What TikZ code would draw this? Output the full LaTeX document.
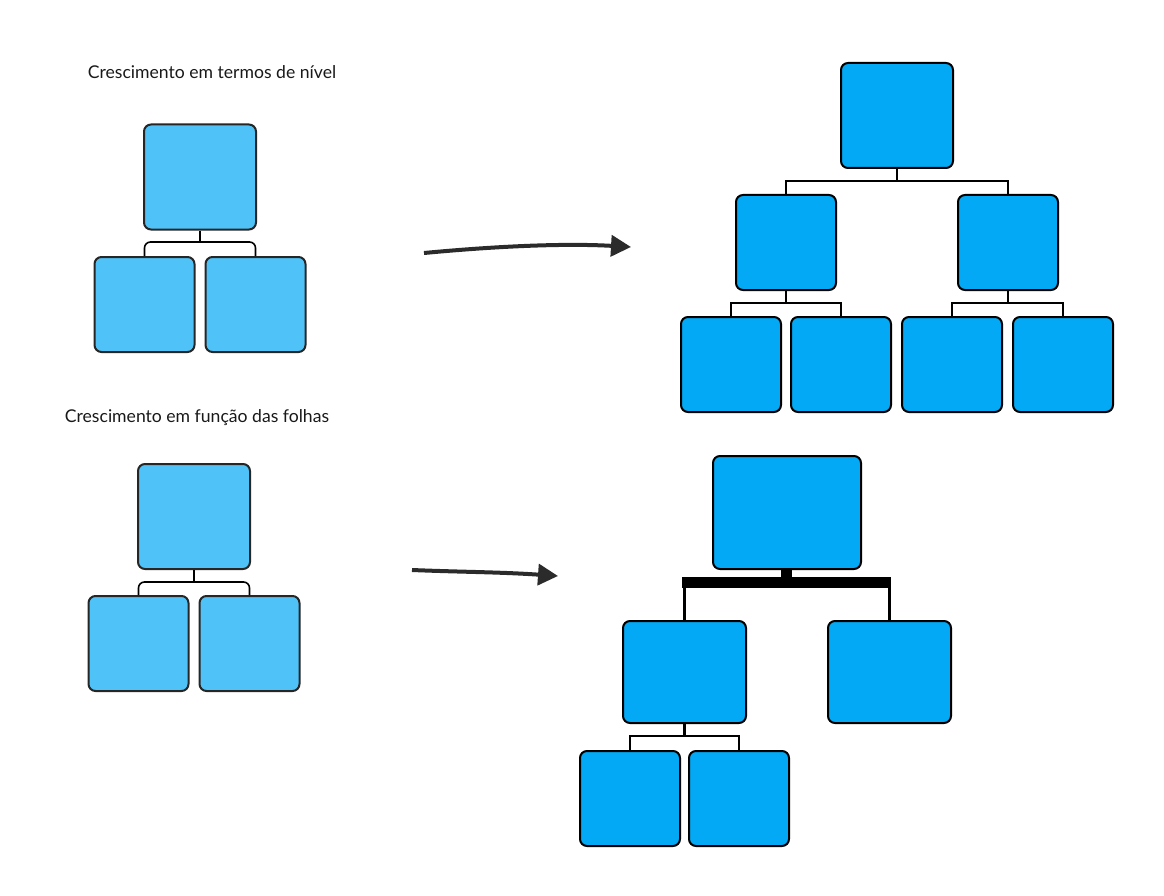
\documentclass[tikz,border=0pt]{standalone}
\usepackage{fontspec}
\setmainfont{Lato}
\usetikzlibrary{arrows.meta}
\definecolor{lightbox}{HTML}{4FC3F7}
\definecolor{darkbox}{HTML}{03A9F4}
\definecolor{arrowgray}{HTML}{2B2B2B}
\begin{document}
\begin{tikzpicture}[x=1pt,y=-1pt,
  lbox/.style={rectangle,draw=black!85,line width=2pt,fill=lightbox,rounded corners=7pt,inner sep=0pt},
  dbox/.style={rectangle,draw=black,line width=2pt,fill=darkbox,rounded corners=7pt,inner sep=0pt},
  bigbox/.style={minimum width=112pt,minimum height=105pt},
  smallbox/.style={minimum width=100pt,minimum height=95pt},
  midbox/.style={minimum width=123pt,minimum height=102pt},
  thin/.style={draw=black,line width=1.6pt},
  bigarrow/.style={draw=arrowgray,line width=4pt,-{Triangle[length=20pt,width=21pt]}},
  title/.style={font=\fontsize{17.6}{20}\selectfont,text=black!90,inner sep=0pt}
]
\useasboundingbox (0,0) rectangle (1164,896);

% titles
\node[title] (t1) at (212,72) {Crescimento em termos de nível};
\node[title] (t2) at (197,418) {Crescimento em função das folhas};

% top-left tree
\node[lbox,bigbox] (A0) at (200,177) {};
\node[lbox,smallbox] (A1) at (144.5,304.5) {};
\node[lbox,smallbox] (A2) at (255.5,304.5) {};
\coordinate (ja) at (200,242);
\draw[thin] (A0.south) -- (ja);
\draw[thin,rounded corners=6pt] (A1.north) |- (ja) -| (A2.north);

% top-right tree
\node[dbox,bigbox] (B0) at (897,115.5) {};
\node[dbox,smallbox] (B1) at (786,242.5) {};
\node[dbox,smallbox] (B2) at (1008,242.5) {};
\node[dbox,smallbox] (B3) at (731,364.5) {};
\node[dbox,smallbox] (B4) at (841,364.5) {};
\node[dbox,smallbox] (B5) at (952,364.5) {};
\node[dbox,smallbox] (B6) at (1063,364.5) {};
\coordinate (jb) at (897,181);
\coordinate (jb1) at (786,303);
\coordinate (jb2) at (1008,303);
\draw[thin] (B0.south) -- (jb);
\draw[thin] (B1.north) |- (jb) -| (B2.north);
\draw[thin] (B1.south) -- (jb1);
\draw[thin] (B3.north) |- (jb1) -| (B4.north);
\draw[thin] (B2.south) -- (jb2);
\draw[thin] (B5.north) |- (jb2) -| (B6.north);

% bottom-left tree
\node[lbox,bigbox] (C0) at (194,516.5) {};
\node[lbox,smallbox] (C1) at (138.5,643.5) {};
\node[lbox,smallbox] (C2) at (249.5,643.5) {};
\coordinate (jc) at (194,582);
\draw[thin] (C0.south) -- (jc);
\draw[thin,rounded corners=6pt] (C1.north) |- (jc) -| (C2.north);

% bottom-right tree
\node[dbox,minimum width=148pt,minimum height=113pt] (D0) at (787,512.5) {};
\node[dbox,midbox] (D1) at (684.5,672) {};
\node[dbox,midbox] (D2) at (889.5,672) {};
\node[dbox,smallbox] (D3) at (630,798.5) {};
\node[dbox,smallbox] (D4) at (739,798.5) {};
\coordinate (barL) at (682,577);
\coordinate (barR) at (891,588);
\fill[black] (barL) rectangle (barR);
\fill[black] (781,569) rectangle (792,588);
\draw[draw=black,line width=3.5pt] (D1.north) -- (D1.north |- barR);
\draw[draw=black,line width=3.5pt] (D2.north) -- (D2.north |- barR);
\coordinate (jd) at (684.5,736);
\draw[draw=black,line width=2.8pt] (D1.south) -- (jd);
\draw[draw=black,line width=2.8pt] (D3.north) |- (jd) -| (D4.north);

% arrows
\coordinate (a1s) at (424,253);
\coordinate (a1e) at (631,247);
\draw[bigarrow] (a1s) .. controls (520,244) and (580,244) .. (a1e);
\coordinate (a2s) at (412,570);
\coordinate (a2e) at (558,576);
\draw[bigarrow] (a2s) .. controls (460,572) and (500,572) .. (a2e);
\end{tikzpicture}
\end{document}
